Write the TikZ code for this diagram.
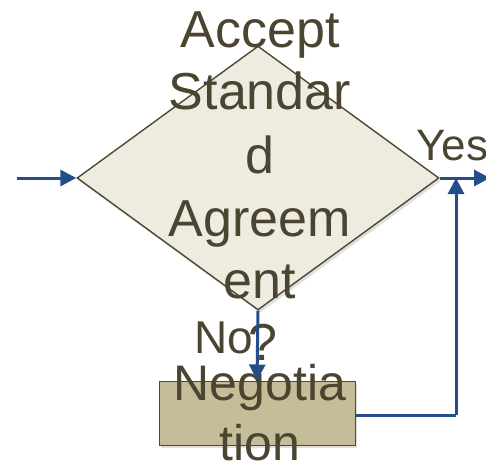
\documentclass[tikz,border=0pt]{standalone}
\usepackage{fontspec}
\setmainfont{Liberation Sans}
\usetikzlibrary{shapes.geometric,arrows.meta,shadows}
\definecolor{txtc}{HTML}{4A4430}
\definecolor{edgec}{HTML}{4E4A30}
\definecolor{dfill}{HTML}{EEECE1}
\definecolor{rfill}{HTML}{C4BD97}
\definecolor{flow}{HTML}{234E8A}
\tikzset{
  x=1pt, y=-1pt,
  dec/.style={diamond, draw=edgec, line width=1.4pt, fill=dfill, inner sep=0pt,
    minimum width=362pt, minimum height=264pt,
    drop shadow={shadow xshift=2pt, shadow yshift=-3pt, opacity=0.25}},
  procbox/.style={rectangle, draw=edgec, line width=1pt, fill=rfill, inner sep=0pt,
    minimum width=196pt, minimum height=64pt,
    drop shadow={shadow xshift=2pt, shadow yshift=-3pt, opacity=0.25}},
  big/.style={text=txtc, inner sep=0pt, anchor=base, font=\fontsize{52}{62}\selectfont},
  mid/.style={text=txtc, inner sep=0pt, anchor=base, font=\fontsize{50}{60}\selectfont},
  lab/.style={text=txtc, inner sep=0pt, anchor=base west},
  conn/.style={draw=flow, line width=3pt, -{Triangle[length=16pt,width=16pt]}},
  plain/.style={draw=flow, line width=3pt},
}
\begin{document}
\begin{tikzpicture}
\useasboundingbox (0,0) rectangle (486,468);
\node[dec] (d) at (258,178) {};
\node[procbox] (p) at (257,413) {};
% diamond text
\node[big] (t1) at (260,48) {Accept};
\node[big] (t2) at (260,110) {Standar};
\node[big] (t3) at (260,173) {d};
\node[big] (t4) at (260,236) {Agreem};
\node[big] (t5) at (260,298) {ent};
\node[big] (t6) at (263,360) {?};
% box text
\node[mid] (n1) at (260,400) {Negotia};
\node[mid] (n2) at (260,460) {tion};
% labels
\node[lab, font=\fontsize{46}{52}\selectfont] (no) at (194,353) {No};
\node[lab, font=\fontsize{44}{50}\selectfont] (yes) at (416,160) {Yes};
% connectors
\coordinate (in) at (17,178);
\coordinate (out) at (490,178);
\coordinate (corner) at (456,415);
\coordinate (up) at (456,178);
\draw[conn] (in) -- (d.west);
\draw[conn] (d.east) -- (out);
\draw[conn] (d.south) -- (p.north);
\draw[plain] (p.east |- corner) -- (corner);
\draw[conn] (corner) -- (up);
\end{tikzpicture}
\end{document}
